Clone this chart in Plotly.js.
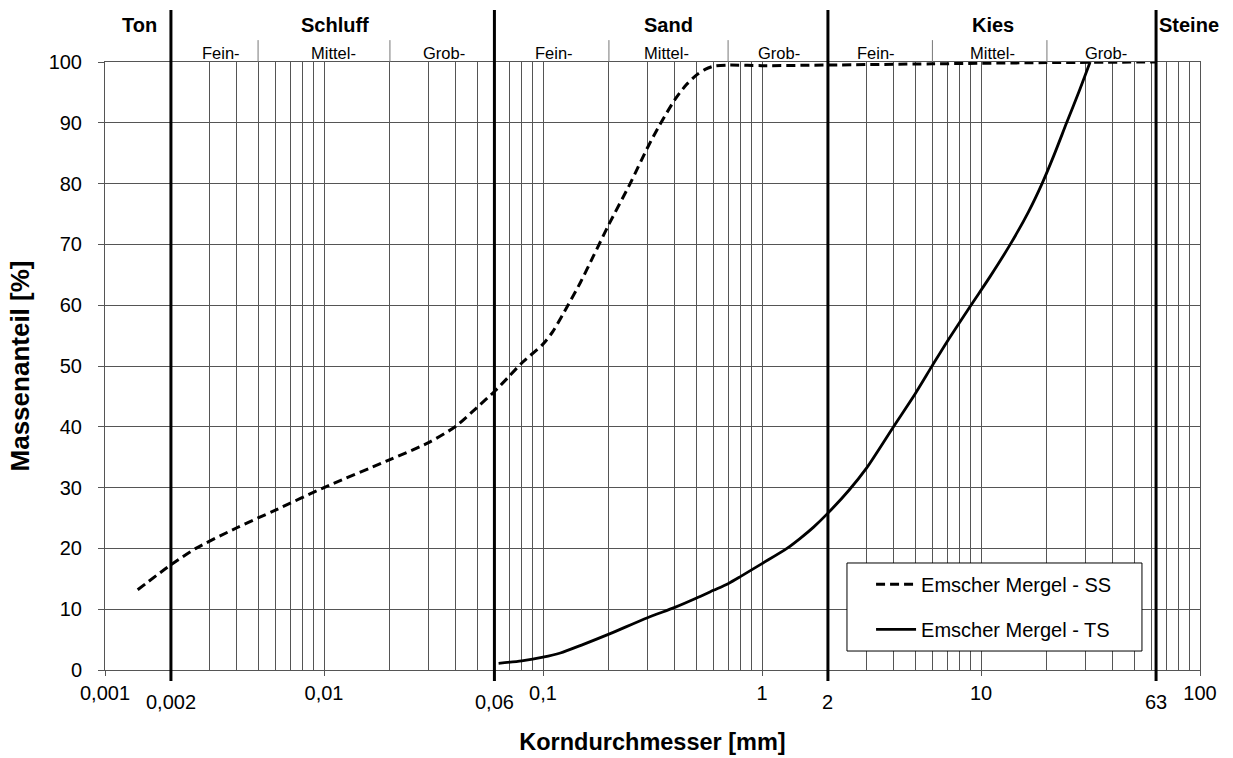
<!DOCTYPE html>
<html>
<head>
<meta charset="utf-8">
<script src="https://cdn.plot.ly/plotly-3.0.1.min.js"></script>
<style>
  html, body { margin: 0; padding: 0; background: #fff; }
  #chart { width: 1233px; height: 758px; }
</style>
</head>
<body>
<div id="chart"></div>
<script>
// Sieve curves (grain size in mm, mass passing in %)
const grainSS = [0.00141, 0.002, 0.0026, 0.004, 0.006, 0.01, 0.02, 0.03, 0.04, 0.05, 0.06, 0.07, 0.08, 0.1, 0.111, 0.13, 0.148, 0.17, 0.2, 0.25, 0.3, 0.343, 0.4, 0.45, 0.5, 0.55, 0.6, 0.7, 1, 2, 6, 20, 63];
const passSS  = [13.2, 17.3, 20, 23.4, 26.3, 30, 34.6, 37.4, 40.1, 43.2, 45.8, 48.3, 50.5, 53.6, 55.7, 60, 63.7, 68.1, 73.3, 80, 85.9, 89.8, 93.8, 96.2, 97.8, 98.8, 99.3, 99.5, 99.4, 99.5, 99.7, 99.9, 100];

const grainTS = [0.0627, 0.08, 0.1, 0.12, 0.15, 0.2, 0.3, 0.4, 0.5, 0.6, 0.7, 0.8, 1, 1.3, 1.5, 1.72, 2, 2.5, 3, 4, 5, 6, 7, 9, 11, 13.6, 16.5, 19, 21.5, 24.6, 28, 31.5];
const passTS  = [1.1, 1.5, 2.1, 2.8, 4.1, 5.9, 8.6, 10.3, 11.8, 13.1, 14.2, 15.4, 17.5, 20, 21.7, 23.5, 25.8, 29.6, 33.2, 40.1, 45.4, 50.1, 54, 60, 64.7, 70, 75.4, 80, 84.6, 90, 95.1, 100];

const seriesNames = ['Emscher Mergel - SS', 'Emscher Mergel - TS'];

// Axis labels
const xTickVals = [0.001, 0.01, 0.1, 1, 10, 100];
const xTickText = ['0,001', '0,01', '0,1', '1', '10', '100'];

// Main soil-class boundaries (mm) and their labels
const boundaries = [0.002, 0.06, 2, 63];
const boundaryText = ['0,002', '0,06', '2', '63'];

// Sub-class dividers (mm)
const subDividers = [0.005, 0.02, 0.2, 0.7, 6, 20];

// Soil class names and their centre positions (log10 mm)
const classNames = ['Ton', 'Schluff', 'Sand', 'Kies', 'Steine'];
const classPos = [-2.843, -1.948, -0.428, 1.054, 1.951];

// Sub-class names and centre positions (log10 mm)
const subNames = ['Fein-', 'Mittel-', 'Grob-', 'Fein-', 'Mittel-', 'Grob-', 'Fein-', 'Mittel-', 'Grob-'];
const subPos = [-2.469, -1.958, -1.45, -0.948, -0.435, 0.077, 0.522, 1.052, 1.573];

// log grid: 2..9 within each decade
const minorGrid = [];
for (let e = -3; e < 2; e++) {
  for (let m = 2; m <= 9; m++) minorGrid.push(m * Math.pow(10, e));
}

const FONT = 'Liberation Sans, Arial, sans-serif';
const GRID = '#555555';

const traces = [
  {
    x: grainSS, y: passSS, name: seriesNames[0], type: 'scatter', mode: 'lines',
    line: { color: '#000', width: 3, dash: '9px,5px', shape: 'spline', smoothing: 0.75 },
    legendgroup: 'a'
  },
  {
    x: grainTS, y: passTS, name: seriesNames[1], type: 'scatter', mode: 'lines',
    line: { color: '#000', width: 2.8, shape: 'spline', smoothing: 0.75 },
    legendgroup: 'b'
  }
];

const shapes = [];
boundaries.forEach(b => {
  shapes.push({
    type: 'line', xref: 'x', yref: 'paper', x0: b, x1: b, y0: -0.018, y1: 1.0855,
    line: { color: '#000', width: 3 }, layer: 'above'
  });
});
subDividers.forEach(b => {
  shapes.push({
    type: 'line', xref: 'x', yref: 'paper', x0: b, x1: b, y0: 1.0, y1: 1.036,
    line: { color: '#777', width: 1 }, layer: 'above'
  });
});
// legend frame
shapes.push({
  type: 'rect', xref: 'paper', yref: 'paper', x0: 0.6776, x1: 0.947, y0: 0.0312, y1: 0.176,
  fillcolor: '#fff', line: { color: '#000', width: 1 }, layer: 'above'
});

const annotations = [];
classNames.forEach((t, i) => annotations.push({
  text: '<b>' + t + '</b>', x: classPos[i], xref: 'x', y: 1.0609, yref: 'paper',
  showarrow: false, xanchor: 'center', yanchor: 'middle',
  font: { family: FONT, size: 20, color: '#000' }
}));
subNames.forEach((t, i) => annotations.push({
  text: t, x: subPos[i], xref: 'x', y: 1.0156, yref: 'paper',
  showarrow: false, xanchor: 'center', yanchor: 'middle',
  font: { family: FONT, size: 16.5, color: '#000' }
}));
boundaries.forEach((b, i) => annotations.push({
  text: boundaryText[i], x: Math.log10(b), xref: 'x', y: -0.052, yref: 'paper',
  showarrow: false, xanchor: 'center', yanchor: 'middle',
  font: { family: FONT, size: 20, color: '#000' }
}));

const layout = {
  width: 1233, height: 758,
  margin: { l: 105, r: 33, t: 62, b: 88 },
  paper_bgcolor: '#fff', plot_bgcolor: '#fff',
  font: { family: FONT, color: '#000' },
  showlegend: true,
  legend: {
    x: 0.6996, xanchor: 'left', y: 0.173, yanchor: 'top',
    bgcolor: 'rgba(0,0,0,0)', borderwidth: 0,
    font: { family: FONT, size: 20, color: '#000' },
    tracegroupgap: 16, itemwidth: 40
  },
  xaxis: {
    type: 'log', range: [-3, 2],
    tickmode: 'array', tickvals: xTickVals, ticktext: xTickText,
    tickfont: { family: FONT, size: 20, color: '#000' },
    ticks: 'outside', ticklen: 5, tickcolor: GRID, tickwidth: 1,
    showgrid: true, gridcolor: GRID, gridwidth: 1,
    minor: { tickmode: 'array', tickvals: minorGrid, showgrid: true, gridcolor: GRID, gridwidth: 1, ticks: '' },
    showline: true, linecolor: GRID, linewidth: 1, mirror: true,
    zeroline: false,
    title: { text: '<b>Korndurchmesser [mm]</b>', font: { family: FONT, size: 23.5, color: '#000' }, standoff: 30 }
  },
  yaxis: {
    range: [0, 100], dtick: 10, tick0: 0,
    tickfont: { family: FONT, size: 20, color: '#000' },
    ticks: 'outside', ticklen: 6, tickcolor: GRID, tickwidth: 1,
    ticklabelstandoff: 12,
    showgrid: true, gridcolor: GRID, gridwidth: 1,
    showline: true, linecolor: GRID, linewidth: 1, mirror: true,
    zeroline: false,
    title: { text: '<b>Massenanteil [%]</b>', font: { family: FONT, size: 26, color: '#000' }, standoff: 11 }
  },
  shapes: shapes,
  annotations: annotations
};

Plotly.newPlot('chart', traces, layout, { displayModeBar: false, staticPlot: true });
</script>
</body>
</html>
